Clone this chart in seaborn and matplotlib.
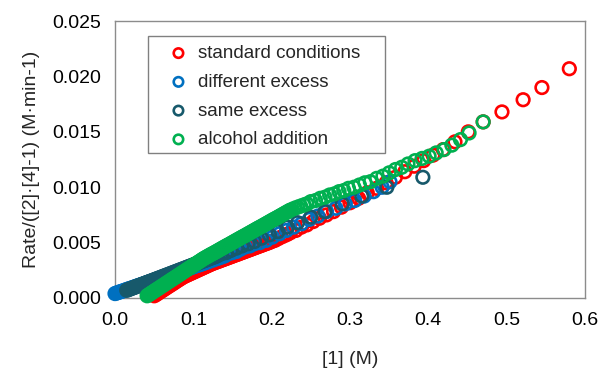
import matplotlib
matplotlib.use("Agg")
import matplotlib.pyplot as plt
from matplotlib.patches import Rectangle
import seaborn as sns
import pandas as pd

# ---------------- data ----------------
std_x = [0.050, 0.052, 0.054, 0.056, 0.058, 0.060, 0.062, 0.064, 0.066, 0.068,
         0.070, 0.072, 0.074, 0.076, 0.078, 0.080, 0.082, 0.084, 0.086, 0.088,
         0.090, 0.092, 0.094, 0.096, 0.098, 0.100, 0.102, 0.104, 0.106, 0.108,
         0.110, 0.112, 0.114, 0.116, 0.118, 0.120, 0.122, 0.124, 0.126, 0.128,
         0.130, 0.132, 0.134, 0.136, 0.138, 0.140, 0.142, 0.144, 0.146, 0.148,
         0.150, 0.152, 0.154, 0.156, 0.158, 0.160, 0.162, 0.164, 0.166, 0.168,
         0.170, 0.172, 0.174, 0.176, 0.178, 0.180, 0.182, 0.184, 0.186, 0.188,
         0.190, 0.192, 0.194, 0.196, 0.198, 0.200, 0.204, 0.208, 0.212, 0.216,
         0.220, 0.224, 0.231, 0.238, 0.245, 0.253, 0.261, 0.270, 0.279, 0.289,
         0.300, 0.311, 0.322, 0.334, 0.346, 0.358, 0.370, 0.382, 0.394, 0.406,
         0.419, 0.434, 0.451, 0.470, 0.494, 0.521, 0.545, 0.580]
std_y = [0.00020, 0.00029, 0.00038, 0.00048, 0.00057, 0.00066, 0.00075, 0.00084, 0.00094, 0.00103,
         0.00112, 0.00121, 0.00130, 0.00139, 0.00149, 0.00158, 0.00167, 0.00176, 0.00185, 0.00193,
         0.00200, 0.00206, 0.00213, 0.00219, 0.00226, 0.00232, 0.00239, 0.00245, 0.00252, 0.00258,
         0.00265, 0.00271, 0.00278, 0.00284, 0.00291, 0.00297, 0.00304, 0.00310, 0.00315, 0.00321,
         0.00326, 0.00331, 0.00336, 0.00342, 0.00347, 0.00352, 0.00357, 0.00363, 0.00368, 0.00373,
         0.00378, 0.00384, 0.00389, 0.00394, 0.00399, 0.00405, 0.00410, 0.00415, 0.00420, 0.00426,
         0.00431, 0.00436, 0.00441, 0.00447, 0.00452, 0.00457, 0.00463, 0.00468, 0.00473, 0.00478,
         0.00484, 0.00489, 0.00494, 0.00499, 0.00505, 0.00510, 0.00520, 0.00535, 0.00550, 0.00562,
         0.00575, 0.00590, 0.0061, 0.0064, 0.0066, 0.0069, 0.0072, 0.0075, 0.0078, 0.0082,
         0.0086, 0.0090, 0.0095, 0.0099, 0.0104, 0.0109, 0.0114, 0.0119, 0.0124, 0.0129,
         0.0134, 0.0141, 0.0150, 0.0159, 0.0168, 0.0179, 0.0190, 0.0207]

diff_x = [0.000, 0.002, 0.004, 0.006, 0.008, 0.010, 0.012, 0.014, 0.016, 0.018,
          0.020, 0.022, 0.024, 0.026, 0.028, 0.030, 0.032, 0.034, 0.036, 0.038,
          0.040, 0.042, 0.044, 0.046, 0.048, 0.050, 0.052, 0.054, 0.056, 0.058,
          0.060, 0.062, 0.064, 0.066, 0.068, 0.070, 0.072, 0.074, 0.076, 0.078,
          0.080, 0.082, 0.084, 0.086, 0.088, 0.090, 0.092, 0.094, 0.096, 0.098,
          0.100, 0.102, 0.104, 0.106, 0.108, 0.110, 0.112, 0.114, 0.116, 0.118,
          0.120, 0.124, 0.128, 0.132, 0.136, 0.140, 0.145, 0.150, 0.155, 0.160,
          0.166, 0.172, 0.178, 0.185, 0.193, 0.201, 0.210, 0.219, 0.228, 0.238,
          0.248, 0.259, 0.270, 0.282, 0.294, 0.306, 0.318, 0.330, 0.341, 0.351]
diff_y = [0.00040, 0.00045, 0.00050, 0.00055, 0.00059, 0.00064, 0.00069, 0.00074, 0.00079, 0.00084,
          0.00088, 0.00093, 0.00098, 0.00103, 0.00108, 0.00113, 0.00117, 0.00122, 0.00127, 0.00132,
          0.00137, 0.00142, 0.00146, 0.00151, 0.00156, 0.00161, 0.00166, 0.00171, 0.00176, 0.00180,
          0.00185, 0.00190, 0.00195, 0.00200, 0.00205, 0.00209, 0.00214, 0.00219, 0.00224, 0.00229,
          0.00234, 0.00238, 0.00243, 0.00248, 0.00253, 0.00258, 0.00263, 0.00267, 0.00272, 0.00277,
          0.00282, 0.00287, 0.00292, 0.00297, 0.00301, 0.00306, 0.00311, 0.00316, 0.00321, 0.00326,
          0.00330, 0.0034, 0.0035, 0.0036, 0.0037, 0.0038, 0.0040, 0.0041, 0.0042, 0.0044,
          0.0046, 0.0047, 0.0049, 0.0050, 0.0052, 0.0055, 0.0058, 0.0061, 0.0064, 0.0067,
          0.0071, 0.0074, 0.0078, 0.0081, 0.0085, 0.0088, 0.0092, 0.0096, 0.0100, 0.0105]

same_x = [0.015, 0.017, 0.019, 0.021, 0.023, 0.025, 0.027, 0.029, 0.031, 0.033,
          0.035, 0.037, 0.039, 0.041, 0.043, 0.045, 0.047, 0.049, 0.051, 0.053,
          0.055, 0.057, 0.059, 0.061, 0.063, 0.065, 0.067, 0.069, 0.071, 0.073,
          0.075, 0.077, 0.079, 0.081, 0.083, 0.085, 0.087, 0.089, 0.091, 0.093,
          0.095, 0.097, 0.099, 0.101, 0.103, 0.105, 0.107, 0.109, 0.111, 0.113,
          0.115, 0.117, 0.119, 0.121, 0.123, 0.125, 0.127, 0.129, 0.131, 0.136,
          0.142, 0.148, 0.155, 0.162, 0.170, 0.178, 0.187, 0.197, 0.208, 0.220,
          0.233, 0.250, 0.268, 0.290, 0.315, 0.347, 0.393]
same_y = [0.00070, 0.00075, 0.00081, 0.00086, 0.00092, 0.00097, 0.00102, 0.00108, 0.00113, 0.00119,
          0.00124, 0.00129, 0.00135, 0.00140, 0.00146, 0.00151, 0.00156, 0.00162, 0.00167, 0.00173,
          0.00178, 0.00183, 0.00189, 0.00194, 0.00200, 0.00205, 0.00210, 0.00216, 0.00221, 0.00227,
          0.00232, 0.00237, 0.00243, 0.00248, 0.00254, 0.00259, 0.00264, 0.00270, 0.00275, 0.00281,
          0.00286, 0.00291, 0.00297, 0.00302, 0.00308, 0.00313, 0.00318, 0.00324, 0.00329, 0.00335,
          0.00340, 0.00345, 0.00351, 0.00356, 0.00362, 0.00367, 0.00372, 0.00378, 0.00383, 0.0040,
          0.0041, 0.0043, 0.0045, 0.0047, 0.0049, 0.0051, 0.0054, 0.0057, 0.0060, 0.0064,
          0.0068, 0.0073, 0.0078, 0.0085, 0.0092, 0.0100, 0.0109]

alc_x = [0.041, 0.043, 0.045, 0.047, 0.049, 0.051, 0.053, 0.055, 0.057, 0.059,
         0.061, 0.063, 0.065, 0.067, 0.069, 0.071, 0.073, 0.075, 0.077, 0.079,
         0.081, 0.083, 0.085, 0.087, 0.089, 0.091, 0.093, 0.095, 0.097, 0.099,
         0.101, 0.103, 0.105, 0.107, 0.109, 0.111, 0.113, 0.115, 0.117, 0.119,
         0.121, 0.123, 0.125, 0.127, 0.129, 0.131, 0.133, 0.135, 0.137, 0.139,
         0.141, 0.143, 0.145, 0.147, 0.149, 0.151, 0.153, 0.155, 0.157, 0.159,
         0.161, 0.163, 0.165, 0.167, 0.169, 0.171, 0.173, 0.175, 0.177, 0.179,
         0.181, 0.183, 0.185, 0.187, 0.189, 0.191, 0.193, 0.195, 0.197, 0.199,
         0.201, 0.203, 0.205, 0.207, 0.209, 0.211, 0.213, 0.215, 0.217, 0.219,
         0.221, 0.223, 0.225, 0.229, 0.233, 0.237, 0.241, 0.245, 0.250, 0.256,
         0.262, 0.268, 0.274, 0.280, 0.286, 0.292, 0.298, 0.305, 0.312, 0.319,
         0.326, 0.334, 0.342, 0.350, 0.358, 0.366, 0.374, 0.383, 0.392, 0.401,
         0.410, 0.420, 0.430, 0.441, 0.452, 0.470]
alc_y = [0.00020, 0.00029, 0.00039, 0.00048, 0.00057, 0.00067, 0.00076, 0.00085, 0.00094, 0.00104,
         0.00113, 0.00122, 0.00132, 0.00141, 0.00150, 0.00160, 0.00169, 0.00178, 0.00187, 0.00197,
         0.00206, 0.00215, 0.00225, 0.00234, 0.00243, 0.00253, 0.00262, 0.00271, 0.00280, 0.00290,
         0.00299, 0.00308, 0.00318, 0.00327, 0.00336, 0.00346, 0.00355, 0.00363, 0.00371, 0.00379,
         0.00387, 0.00395, 0.00402, 0.00410, 0.00418, 0.00426, 0.00434, 0.00442, 0.00450, 0.00458,
         0.00466, 0.00474, 0.00481, 0.00489, 0.00497, 0.00505, 0.00513, 0.00521, 0.00529, 0.00537,
         0.00545, 0.00553, 0.00560, 0.00568, 0.00576, 0.00584, 0.00592, 0.00600, 0.00608, 0.00616,
         0.00624, 0.00632, 0.00639, 0.00647, 0.00655, 0.00663, 0.00671, 0.00679, 0.00687, 0.00695,
         0.00703, 0.00711, 0.00718, 0.00726, 0.00734, 0.00742, 0.00750, 0.00758, 0.00766, 0.00774,
         0.00782, 0.00790, 0.00797, 0.0081, 0.0082, 0.0083, 0.0084, 0.0085, 0.0087, 0.0088,
         0.0090, 0.0091, 0.0093, 0.0094, 0.0096, 0.0097, 0.0099, 0.0100, 0.0102, 0.0104,
         0.0105, 0.0108, 0.0110, 0.0113, 0.0116, 0.0118, 0.0121, 0.0124, 0.0126, 0.0128,
         0.0131, 0.0134, 0.0138, 0.0143, 0.0149, 0.0159]

series_names = ["standard conditions", "different excess", "same excess", "alcohol addition"]
series_colors = ["#FF0000", "#0070C0", "#17596B", "#00B050"]

x_ticks = [0.0, 0.1, 0.2, 0.3, 0.4, 0.5, 0.6]
y_ticks = [0.000, 0.005, 0.010, 0.015, 0.020, 0.025]
x_label = "[1] (M)"
y_label = "Rate/([2]·[4]-1) (M·min-1)"

# ---------------- plot ----------------
sns.set_theme(style="white")
plt.rcParams["font.family"] = ["Liberation Sans", "DejaVu Sans"]
FS = 14

fig = plt.figure(figsize=(6.0, 3.7), dpi=100)
ax = fig.add_axes([0.1917, 0.1946, 0.975 - 0.1917, 0.943 - 0.1946])

data = [(std_x, std_y), (diff_x, diff_y), (same_x, same_y), (alc_x, alc_y)]
for (xs, ys), name, col in zip(data, series_names, series_colors):
    df = pd.DataFrame({"x": xs, "y": ys})
    sns.scatterplot(data=df, x="x", y="y", ax=ax, marker="o", s=82,
                    color=col, facecolor="none", edgecolor=col,
                    linewidth=1.9, label=name, zorder=3, clip_on=False)

ax.set_xlim(0.0, 0.6)
ax.set_ylim(0.0, 0.025)
ax.set_xticks(x_ticks)
ax.set_yticks(y_ticks)
ax.set_xticklabels([f"{v:.1f}" for v in x_ticks])
ax.set_yticklabels([f"{v:.3f}" for v in y_ticks])
ax.tick_params(axis="both", length=0, labelsize=FS, colors="#000000")
ax.tick_params(axis="y", pad=10)
ax.tick_params(axis="x", pad=10)
ax.set_xlabel(x_label, fontsize=FS, labelpad=16)
ax.set_ylabel(y_label, fontsize=FS, labelpad=9)
for sp in ax.spines.values():
    sp.set_color("#8C8C8C")
    sp.set_linewidth(1.0)
    sp.set_zorder(2)
ax.grid(False)

# legend frame drawn as a plain rectangle, entries without their own frame
ax.add_patch(Rectangle((0.0702, 0.5235), 0.5043, 0.4223, transform=ax.transAxes,
                       facecolor="white", edgecolor="#808080", linewidth=1.0,
                       zorder=4, clip_on=False))
leg = ax.legend(loc="upper left", bbox_to_anchor=(0.115, 0.914), fontsize=13.5,
                frameon=False, markerscale=0.75, handletextpad=0.55,
                labelspacing=0.62, borderpad=0.0, handlelength=1.0,
                borderaxespad=0)
leg.set_zorder(5)

fig.savefig("out.png", dpi=100)
